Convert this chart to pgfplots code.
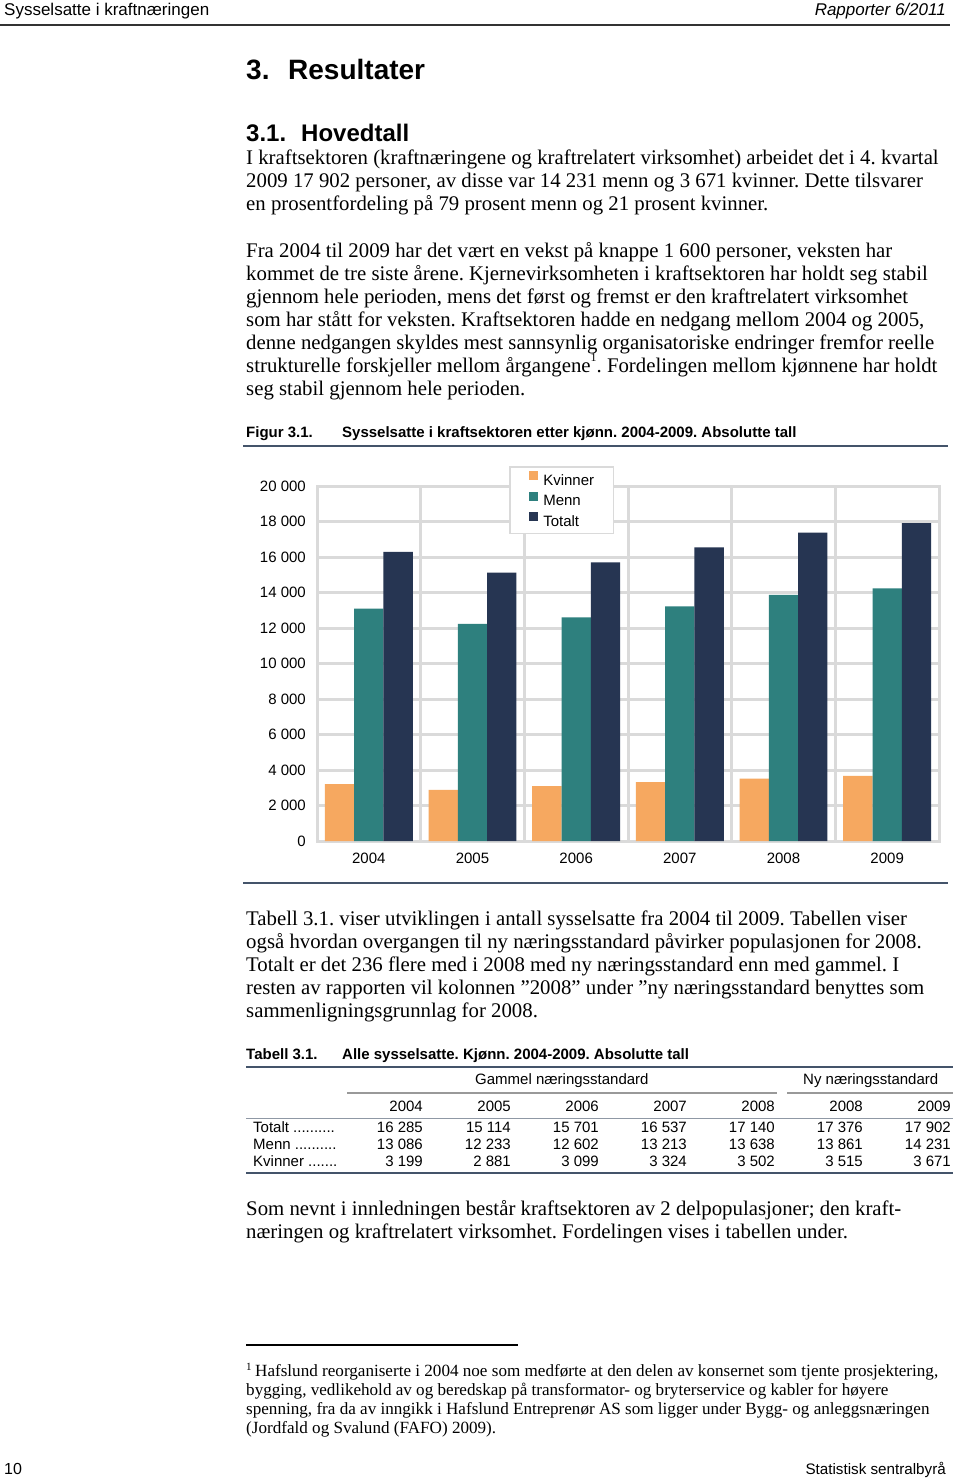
\documentclass[border=0pt]{standalone}
\usepackage{pgfplots}
\pgfplotsset{compat=1.18}
\usepackage{pgfplotstable}
\usepackage{fontspec}
\setmainfont{Liberation Serif}
\newfontfamily\arial{Liberation Sans}
\definecolor{cOr}{RGB}{246,168,96}
\definecolor{cTe}{RGB}{46,128,126}
\definecolor{cNa}{RGB}{38,53,82}
\definecolor{cGrid}{RGB}{218,218,218}
\definecolor{cRule}{RGB}{68,84,106}
\newcommand\fs[2]{\fontsize{#1}{#2}\selectfont}
\newcommand\body{\fs{20.8}{23}}
\newcommand\fn{\fs{17.1}{19}}
\frenchspacing

\pgfplotstableread{
x kv me to
0 3199 13086 16285
1 2881 12233 15114
2 3099 12602 15701
3 3324 13213 16537
4 3515 13861 17376
5 3671 14231 17902
}\data

\begin{document}
\begin{tikzpicture}
\path[use as bounding box, fill=white] (0pt,0pt) rectangle (960pt,-1478pt);
\begin{scope}[x=1pt,y=-1pt, every node/.style={inner sep=0pt, anchor=base west}]
% header
\node[font=\arial\fs{17}{20}] at (4,15) {Sysselsatte i kraftnæringen};
\node[anchor=base east, font=\arial\itshape\fs{17}{20}] at (946,15) {Rapporter 6/2011};
\draw[line width=1.5pt, black!80] (0,25) -- (950,25);
% headings
\node[font=\arial\bfseries\fs{28}{30}] at (246,79) {3.};
\node[font=\arial\bfseries\fs{28}{30}] at (288,79) {Resultater};
\node[font=\arial\bfseries\fs{24}{26}] at (246,141) {3.1.};
\node[font=\arial\bfseries\fs{24}{26}] at (301,141) {Hovedtall};
% paragraph 1
\node[font=\body] at (246,164) {I kraftsektoren (kraftnæringene og kraftrelatert virksomhet) arbeidet det i 4. kvartal};
\node[font=\body] at (246,187) {2009 17 902 personer, av disse var 14 231 menn og 3 671 kvinner. Dette tilsvarer};
\node[font=\body] at (246,210) {en prosentfordeling på 79 prosent menn og 21 prosent kvinner.};
% paragraph 2
\node[font=\body] at (246,257) {Fra 2004 til 2009 har det vært en vekst på knappe 1 600 personer, veksten har};
\node[font=\body] at (246,280) {kommet de tre siste årene. Kjernevirksomheten i kraftsektoren har holdt seg stabil};
\node[font=\body] at (246,303) {gjennom hele perioden, mens det først og fremst er den kraftrelatert virksomhet};
\node[font=\body] at (246,326) {som har stått for veksten. Kraftsektoren hadde en nedgang mellom 2004 og 2005,};
\node[font=\body] at (246,349) {denne nedgangen skyldes mest sannsynlig organisatoriske endringer fremfor reelle};
\node[font=\body] at (246,372) {strukturelle forskjeller mellom årgangene\raisebox{0.5em}{\fs{12}{12}1}. Fordelingen mellom kjønnene har holdt};
\node[font=\body] at (246,395) {seg stabil gjennom hele perioden.};
% figure caption
\node[font=\arial\bfseries\fs{15}{17}] at (246,437.5) {Figur 3.1.};
\node[font=\arial\bfseries\fs{15}{17}] at (342,437.5) {Sysselsatte i kraftsektoren etter kjønn. 2004-2009. Absolutte tall};
\draw[line width=2pt, cRule] (243,446) -- (948,446);
\draw[line width=2pt, cRule] (243,883) -- (948,883);
% paragraph 3
\node[font=\body] at (246,925) {Tabell 3.1. viser utviklingen i antall sysselsatte fra 2004 til 2009. Tabellen viser};
\node[font=\body] at (246,948) {også hvordan overgangen til ny næringsstandard påvirker populasjonen for 2008.};
\node[font=\body] at (246,971) {Totalt er det 236 flere med i 2008 med ny næringsstandard enn med gammel. I};
\node[font=\body] at (246,994) {resten av rapporten vil kolonnen ”2008” under ”ny næringsstandard benyttes som};
\node[font=\body] at (246,1017) {sammenligningsgrunnlag for 2008.};
% table caption
\node[font=\arial\bfseries\fs{15}{17}] at (246,1059.5) {Tabell 3.1.};
\node[font=\arial\bfseries\fs{15}{17}] at (342,1059.5) {Alle sysselsatte. Kjønn. 2004-2009. Absolutte tall};
\draw[line width=2pt, cRule] (246,1067) -- (953,1067);
\draw[line width=1.3pt, black!40] (347,1093) -- (777,1093);
\draw[line width=1.3pt, black!40] (787,1093) -- (953,1093);
\draw[line width=1pt, cRule!60] (246,1118) -- (953,1118);
\draw[line width=2pt, cRule] (246,1173) -- (953,1173);
\begin{scope}[every node/.append style={font=\arial\fs{15}{17}}]
\node at (475,1084.5) {Gammel næringsstandard};
\node at (803,1084.5) {Ny næringsstandard};
\foreach \x/\t in {423/2004,511/2005,599/2006,687/2007,775/2008,863/2008,951/2009}
  \node[anchor=base east] at (\x,1111.5) {\t};
\node at (253,1132.5) {Totalt ..........};
\node at (253,1149.5) {Menn ..........};
\node at (253,1166.5) {Kvinner .......};
\foreach \x/\a/\b/\c in {423/16 285/13 086/3 199,511/15 114/12 233/2 881,599/15 701/12 602/3 099,687/16 537/13 213/3 324,775/17 140/13 638/3 502,863/17 376/13 861/3 515,951/17 902/14 231/3 671}{
  \node[anchor=base east] at (\x,1132.5) {\a};
  \node[anchor=base east] at (\x,1149.5) {\b};
  \node[anchor=base east] at (\x,1166.5) {\c};
}
\end{scope}
% paragraph 4
\node[font=\body] at (246,1215) {Som nevnt i innledningen består kraftsektoren av 2 delpopulasjoner; den kraft-};
\node[font=\body] at (246,1238) {næringen og kraftrelatert virksomhet. Fordelingen vises i tabellen under.};
% footnote
\draw[line width=1.2pt, black] (246,1345) -- (518,1345);
\node[font=\fs{11}{11}] at (246,1370) {1};
\node[font=\fn] at (255,1376) {Hafslund reorganiserte i 2004 noe som medførte at den delen av konsernet som tjente prosjektering,};
\node[font=\fn] at (246,1395) {bygging, vedlikehold av og beredskap på transformator- og bryterservice og kabler for høyere};
\node[font=\fn] at (246,1414) {spenning, fra da av inngikk i Hafslund Entreprenør AS som ligger under Bygg- og anleggsnæringen};
\node[font=\fn] at (246,1433) {(Jordfald og Svalund (FAFO) 2009).};
% footer
\node[font=\arial\fs{16}{20}] at (4,1474) {10};
\node[anchor=base east, font=\arial\fs{15.2}{20}] at (946,1474) {Statistisk sentralbyrå};
\end{scope}

\begin{axis}[
  at={(317pt,-841pt)}, anchor=south west,
  width=622pt, height=355pt, scale only axis,
  xmin=-0.5, xmax=5.5, ymin=0, ymax=20000,
  scaled y ticks=false,
  ybar=0pt, bar width=29.3pt,
  xtick={0,1,2,3,4,5},
  xticklabels={2004,2005,2006,2007,2008,2009},
  minor xtick={0.5,1.5,2.5,3.5,4.5},
  ytick={0,2000,4000,6000,8000,10000,12000,14000,16000,18000,20000},
  yticklabels={0,2 000,4 000,6 000,8 000,10 000,12 000,14 000,16 000,18 000,20 000},
  ymajorgrids, xminorgrids,
  major grid style={cGrid, line width=3pt},
  minor grid style={cGrid, line width=3pt},
  major tick length=0pt, minor tick length=0pt,
  axis line style={cGrid, line width=3pt},
  tick label style={font=\arial\fs{15}{15}, inner sep=0pt},
  yticklabel style={xshift=-11pt},
  xticklabel style={yshift=-11.5pt},
  legend image code/.code={\path (0pt,0pt); \fill[#1] (0pt,1pt) rectangle (9pt,10pt);},
  legend cell align=left,
  legend style={at={(axis description cs:0.3087,1.0563)}, anchor=north west,
    draw=cGrid, line width=1.5pt, fill=white, font=\arial\fs{15}{15},
    inner xsep=19.5pt, inner ysep=4.5pt, row sep=3.4pt,
    nodes={inner sep=0pt, text height=11pt, text depth=3pt},
    /tikz/every odd column/.append style={column sep=5pt}},
]
\addplot[fill=cOr, draw=none] table[x=x, y=kv] {\data};
\addplot[fill=cTe, draw=none] table[x=x, y=me] {\data};
\addplot[fill=cNa, draw=none] table[x=x, y=to] {\data};
\legend{Kvinner, Menn, Totalt}
\end{axis}
\end{tikzpicture}
\end{document}
